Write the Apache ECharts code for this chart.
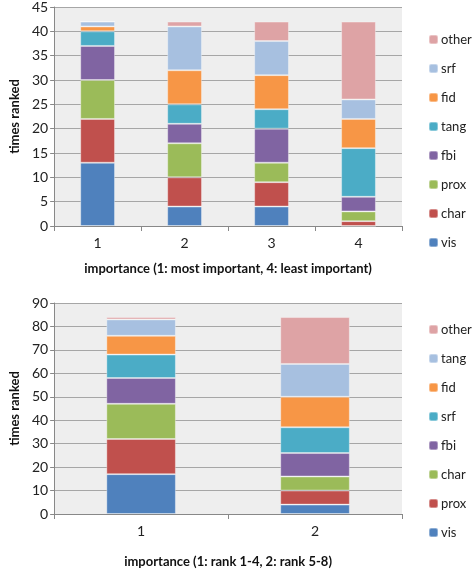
<!DOCTYPE html>
<html><head><meta charset="utf-8">
<script src="https://cdn.jsdelivr.net/npm/echarts@6/dist/echarts.min.js"></script>
<style>html,body{margin:0;padding:0;background:#fff}#c1{width:472px;height:285px}#c2{width:472px;height:288px}</style>
</head><body>
<div id="c1"></div><div id="c2"></div>
<script>
// ---- top chart data ----
const topCategories = ['1','2','3','4'];
const topSeriesNames = ['vis','char','prox','fbi','tang','fid','srf','other'];
const top_vis   = [13, 4, 4, 0];
const top_char  = [9, 6, 5, 1];
const top_prox  = [8, 7, 4, 2];
const top_fbi   = [7, 4, 7, 3];
const top_tang  = [3, 4, 4, 10];
const top_fid   = [1, 7, 7, 6];
const top_srf   = [1, 9, 7, 4];
const top_other = [0, 1, 4, 16];
const topYTicks = [0,5,10,15,20,25,30,35,40,45];

// ---- bottom chart data ----
const botCategories = ['1','2'];
const botSeriesNames = ['vis','prox','char','fbi','srf','fid','tang','other'];
const bot_vis   = [17, 4];
const bot_prox  = [15, 6];
const bot_char  = [15, 6];
const bot_fbi   = [11, 10];
const bot_srf   = [10, 11];
const bot_fid   = [8, 13];
const bot_tang  = [7, 14];
const bot_other = [1, 20];
const botYTicks = [0,10,20,30,40,50,60,70,80,90];

const palette = ['#4f81bd','#c0504d','#9bbb59','#8064a2','#4bacc6','#f79646','#a7c0e0','#dea3a5'];
const FONT = 'Lato, "Open Sans", sans-serif';

function build(el, cats, names, values, ticks, xName, gridBottom, gridTop, legendTop, xNameGap) {
  const chart = echarts.init(document.getElementById(el));
  const series = names.map((n, i) => ({
    name: n, type: 'bar', stack: 'all', data: values[i], barWidth: '40%',
    itemStyle: { color: palette[i], borderColor: 'rgba(255,255,255,0.35)', borderWidth: 1 }
  }));
  chart.setOption({
    animation: false,
    textStyle: { fontFamily: FONT },
    grid: { left: 46, right: 70, top: gridTop, bottom: gridBottom, show: true, backgroundColor: '#eeeeee', borderWidth: 0 },
    legend: {
      orient: 'vertical', left: 428, top: legendTop, padding: 0,
      itemWidth: 9, itemHeight: 9, itemGap: 16,
      data: names.slice().reverse(),
      textStyle: { fontSize: 13, color: '#222', fontFamily: FONT, padding: [0,0,0,-2] }
    },
    xAxis: {
      type: 'category', data: cats,
      name: xName, nameLocation: 'middle', nameGap: xNameGap,
      nameTextStyle: { fontWeight: 'bold', fontSize: 13, color: '#111', fontFamily: FONT },
      axisLine: { lineStyle: { color: '#888' } },
      axisTick: { show: true, length: 5, lineStyle: { color: '#888' } },
      axisLabel: { fontSize: 14, color: '#222', margin: 10, fontFamily: FONT }
    },
    yAxis: {
      type: 'value', min: ticks[0], max: ticks[ticks.length-1], interval: ticks[1]-ticks[0],
      name: 'times ranked', nameLocation: 'middle', nameGap: 28,
      nameTextStyle: { fontWeight: 'bold', fontSize: 13, color: '#111', fontFamily: FONT },
      axisLine: { show: true, lineStyle: { color: '#888' } },
      axisTick: { show: true, length: 4, lineStyle: { color: '#888' } },
      axisLabel: { fontSize: 14, color: '#222', margin: 6, fontFamily: FONT },
      splitLine: { lineStyle: { color: '#a6a6a6', width: 1 } }
    },
    series: series
  });
}

build('c1', topCategories, topSeriesNames,
  [top_vis, top_char, top_prox, top_fbi, top_tang, top_fid, top_srf, top_other],
  topYTicks, 'importance (1: most important, 4: least important)', 59, 4, 33, 36);
build('c2', botCategories, botSeriesNames,
  [bot_vis, bot_prox, bot_char, bot_fbi, bot_srf, bot_fid, bot_tang, bot_other],
  botYTicks, 'importance (1: rank 1-4, 2: rank 5-8)', 48, 18, 38, 41);
</script>
</body></html>
